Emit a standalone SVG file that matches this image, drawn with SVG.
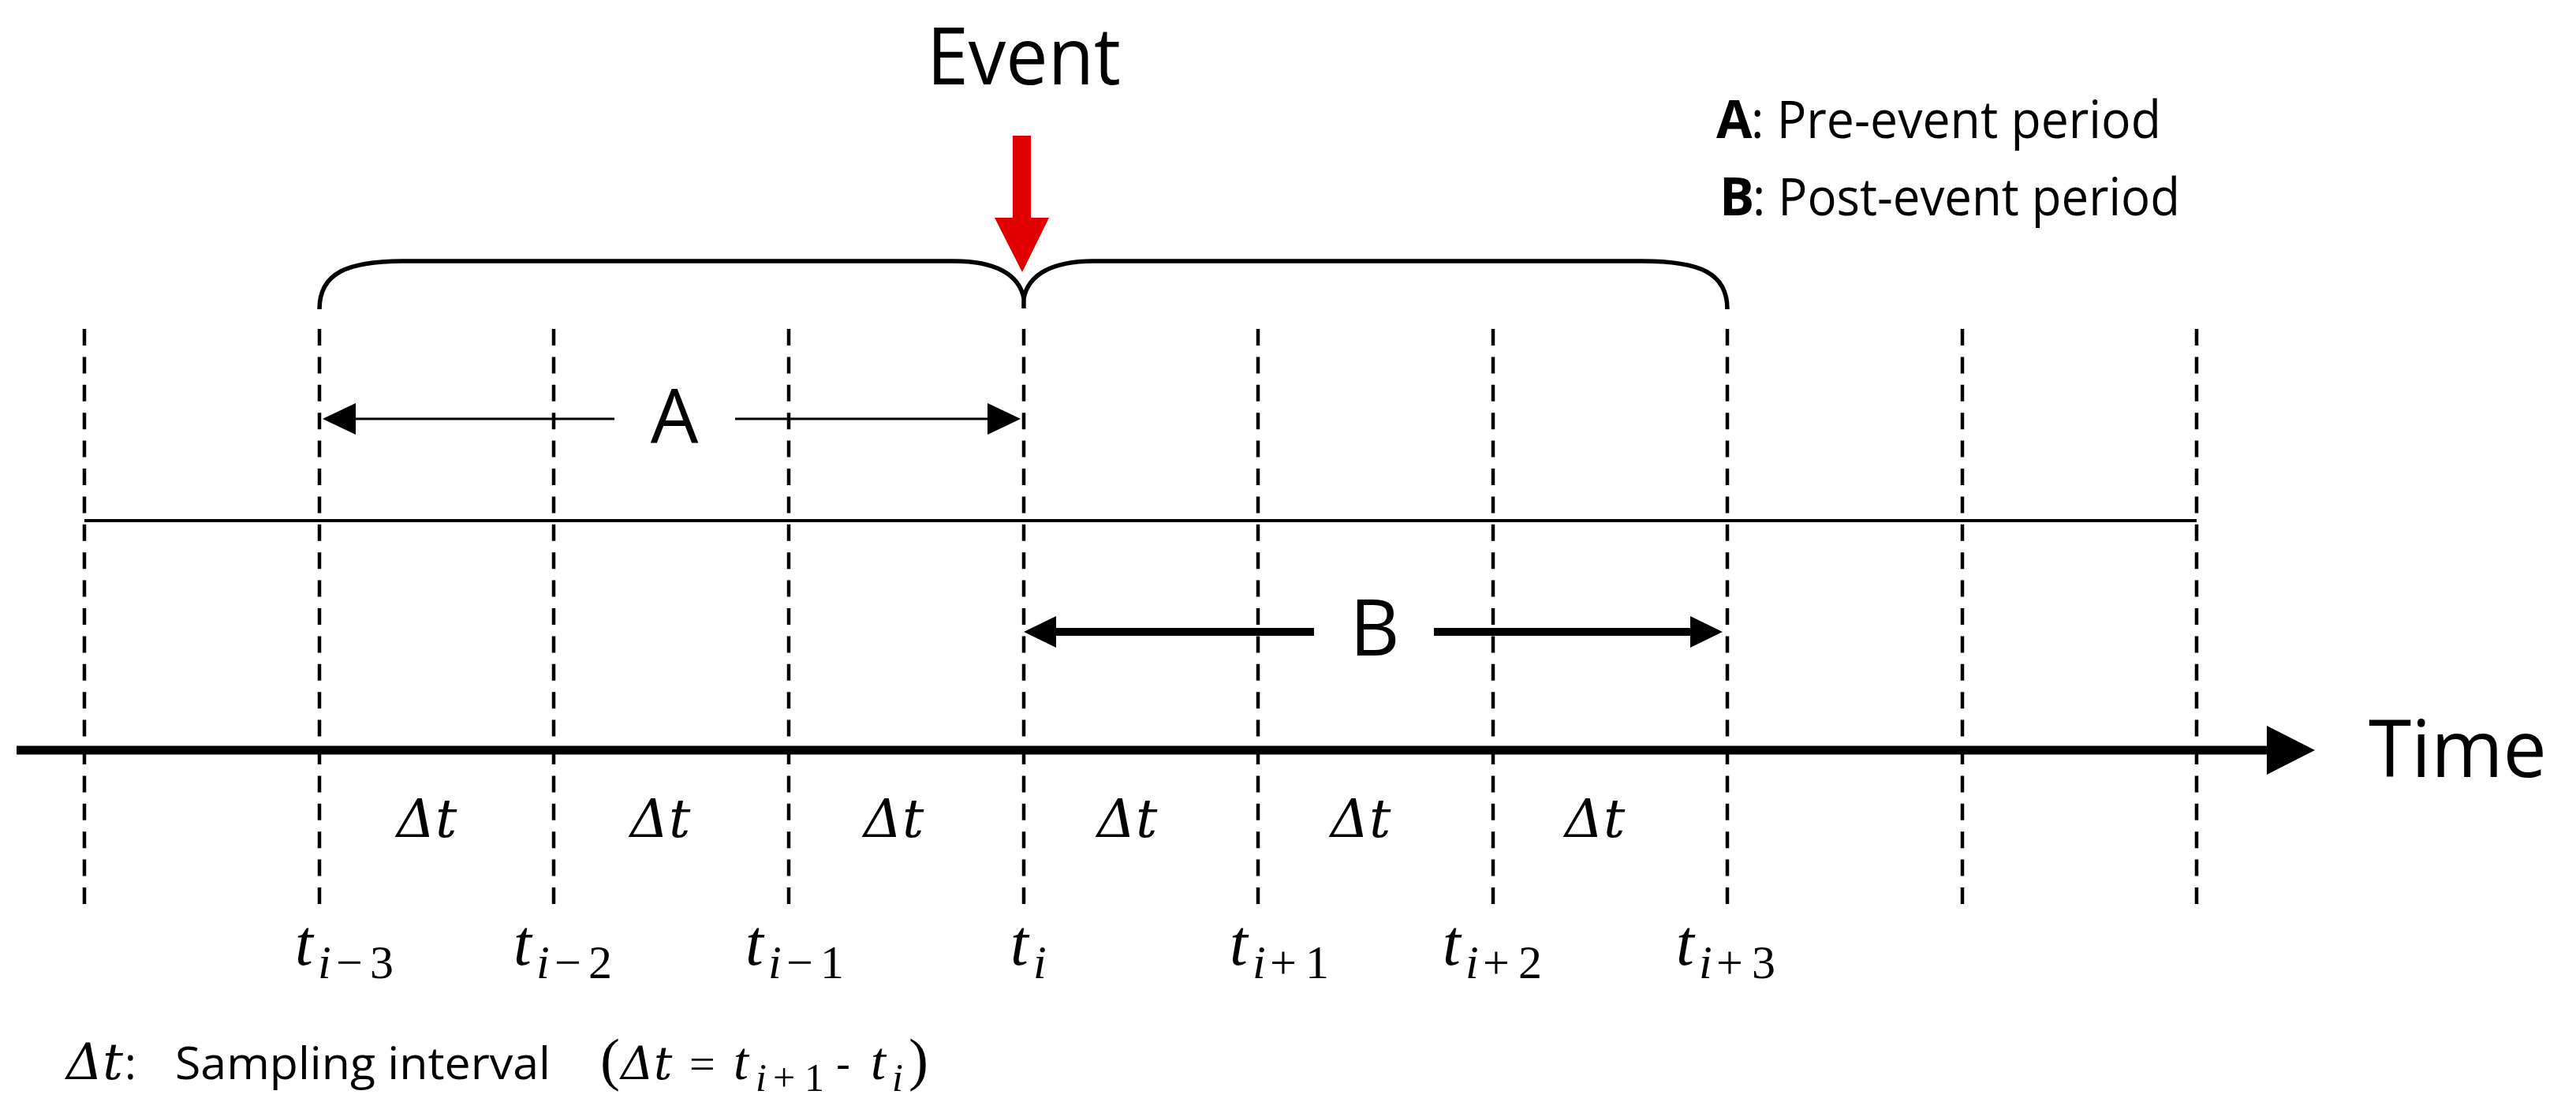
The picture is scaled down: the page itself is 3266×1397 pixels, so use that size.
<svg xmlns="http://www.w3.org/2000/svg" width="3266" height="1397" viewBox="0 0 3266 1397">
<defs>
<style>
.dash{stroke:#000;stroke-width:4.5;stroke-dasharray:21 14.4;fill:none}
.ln{stroke:#000;fill:none}
.sans{font-family:"Open Sans","Liberation Sans",sans-serif;fill:#000}
.math{font-family:"Liberation Serif","DejaVu Serif",serif;font-style:italic;fill:#000}
.delta{font-family:"DejaVu Serif","Liberation Serif",serif;font-style:italic;fill:#000}
.up{font-family:"Liberation Serif","DejaVu Serif",serif;font-style:normal;fill:#000}
.tm{font-size:82px}
.ts{font-size:60px}
.dt{font-size:68px}
</style>
<marker id="headA" markerUnits="userSpaceOnUse" markerWidth="42" markerHeight="40" viewBox="0 0 42 40" refX="0" refY="20" orient="auto-start-reverse"><path d="M0,0 L42,20 L0,40 Z" fill="#000"/></marker>
<marker id="headB" markerUnits="userSpaceOnUse" markerWidth="41" markerHeight="40" viewBox="0 0 41 40" refX="0" refY="20" orient="auto-start-reverse"><path d="M0,0 L41,20 L0,40 Z" fill="#000"/></marker>
<marker id="headT" markerUnits="userSpaceOnUse" markerWidth="61" markerHeight="62" viewBox="0 0 61 62" refX="0" refY="31" orient="auto"><path d="M0,0 L61,31 L0,62 Z" fill="#000"/></marker>
</defs>
<rect x="0" y="0" width="3266" height="1397" fill="#fff"/>

<g id="gridlines">
<line class="dash" x1="107" y1="417" x2="107" y2="1147"/>
<line class="dash" x1="405" y1="417" x2="405" y2="1147"/>
<line class="dash" x1="702" y1="417" x2="702" y2="1147"/>
<line class="dash" x1="1000" y1="417" x2="1000" y2="1147"/>
<line class="dash" x1="1298" y1="417" x2="1298" y2="1147"/>
<line class="dash" x1="1595" y1="417" x2="1595" y2="1147"/>
<line class="dash" x1="1893" y1="417" x2="1893" y2="1147"/>
<line class="dash" x1="2190" y1="417" x2="2190" y2="1147"/>
<line class="dash" x1="2488" y1="417" x2="2488" y2="1147"/>
<line class="dash" x1="2785" y1="417" x2="2785" y2="1147"/>
</g>

<g id="connectors">
<line class="ln" x1="107" y1="660" x2="2785" y2="660" stroke-width="4"/>
<line id="arrowA-left" class="ln" x1="451" y1="531" x2="779" y2="531" stroke-width="3" marker-start="url(#headA)"/>
<line id="arrowA-right" class="ln" x1="932" y1="531" x2="1252" y2="531" stroke-width="3" marker-end="url(#headA)"/>
<line id="arrowB-left" class="ln" x1="1339" y1="801" x2="1666" y2="801" stroke-width="10" marker-start="url(#headB)"/>
<line id="arrowB-right" class="ln" x1="1818" y1="801" x2="2143" y2="801" stroke-width="10" marker-end="url(#headB)"/>
<line id="time-axis" class="ln" x1="21" y1="951" x2="2874" y2="951" stroke-width="11" marker-end="url(#headT)"/>
<path id="brace" class="ln" stroke-width="5.5" d="M405 392 C405 346 440 331 513 331 L1210 331 C1262 331 1292 348 1298 378 C1304 348 1334 331 1386 331 L2082 331 C2155 331 2190 346 2190 392"/>
<line class="ln" x1="1298" y1="374" x2="1298" y2="391" stroke-width="5.5"/>
</g>

<g id="event">
<polygon points="1284,172 1307,172 1307,276 1330,276 1296,345 1261,276 1284,276" fill="#e00000"/>
<text class="sans" x="1175" y="107" font-size="100" textLength="246" lengthAdjust="spacingAndGlyphs">Event</text>
</g>

<g id="legend">
<text class="sans" x="2176" y="175" font-size="66" font-weight="bold">A</text>
<text class="sans" x="2220" y="175" font-size="66" textLength="520" lengthAdjust="spacingAndGlyphs">: Pre-event period</text>
<text class="sans" x="2180" y="273" font-size="66" font-weight="bold">B</text>
<text class="sans" x="2222" y="273" font-size="66" textLength="542" lengthAdjust="spacingAndGlyphs">: Post-event period</text>
</g>

<g id="label-A"><text class="sans" x="855" y="562" font-size="96" text-anchor="middle">A</text></g>
<g id="label-B"><text class="sans" x="1743" y="831" font-size="98" text-anchor="middle">B</text></g>
<g id="label-time"><text class="sans" x="3003" y="985" font-size="100" textLength="226" lengthAdjust="spacingAndGlyphs">Time</text></g>

<g id="intervals">
<text class="delta dt" x="541" y="1061" text-anchor="middle">Δt</text>
<text class="delta dt" x="837" y="1061" text-anchor="middle">Δt</text>
<text class="delta dt" x="1133" y="1061" text-anchor="middle">Δt</text>
<text class="delta dt" x="1429" y="1061" text-anchor="middle">Δt</text>
<text class="delta dt" x="1725" y="1061" text-anchor="middle">Δt</text>
<text class="delta dt" x="2022" y="1061" text-anchor="middle">Δt</text>
</g>

<g id="tick-labels">
<g id="t-i-3"><text class="math tm" x="374" y="1223">t</text><text class="math ts" x="403" y="1240">i</text><text class="up ts" x="426 469" y="1240">−3</text></g>
<g id="t-i-2"><text class="math tm" x="651" y="1223">t</text><text class="math ts" x="680" y="1240">i</text><text class="up ts" x="703 746" y="1240">−2</text></g>
<g id="t-i-1"><text class="math tm" x="945" y="1223">t</text><text class="math ts" x="974" y="1240">i</text><text class="up ts" x="997 1040" y="1240">−1</text></g>
<g id="t-i"><text class="math tm" x="1281" y="1223">t</text><text class="math ts" x="1310" y="1240">i</text></g>
<g id="t-i+1"><text class="math tm" x="1559" y="1223">t</text><text class="math ts" x="1588" y="1240">i</text><text class="up ts" x="1610 1655" y="1240">+1</text></g>
<g id="t-i+2"><text class="math tm" x="1829" y="1223">t</text><text class="math ts" x="1858" y="1240">i</text><text class="up ts" x="1880 1925" y="1240">+2</text></g>
<g id="t-i+3"><text class="math tm" x="2125" y="1223">t</text><text class="math ts" x="2154" y="1240">i</text><text class="up ts" x="2176 2221" y="1240">+3</text></g>
</g>

<g id="footnote">
<text class="delta" x="84" y="1368" font-size="64">Δt</text>
<text class="sans" x="158" y="1368" font-size="56">:</text>
<text class="sans" x="222" y="1368" font-size="56" textLength="476" lengthAdjust="spacingAndGlyphs">Sampling interval</text>
<text class="up" x="761" y="1368" font-size="75">(</text>
<text class="delta" x="787" y="1368" font-size="58">Δt</text>
<text class="up" x="874" y="1368" font-size="58">=</text>
<text class="math" x="930" y="1368" font-size="68">t</text>
<text class="math" x="958" y="1383" font-size="50">i</text>
<text class="up" x="980 1020" y="1383" font-size="50">+1</text>
<text class="sans" x="1060" y="1368" font-size="56">-</text>
<text class="math" x="1104" y="1368" font-size="68">t</text>
<text class="math" x="1131" y="1383" font-size="50">i</text>
<text class="up" x="1152" y="1368" font-size="75">)</text>
</g>
</svg>
